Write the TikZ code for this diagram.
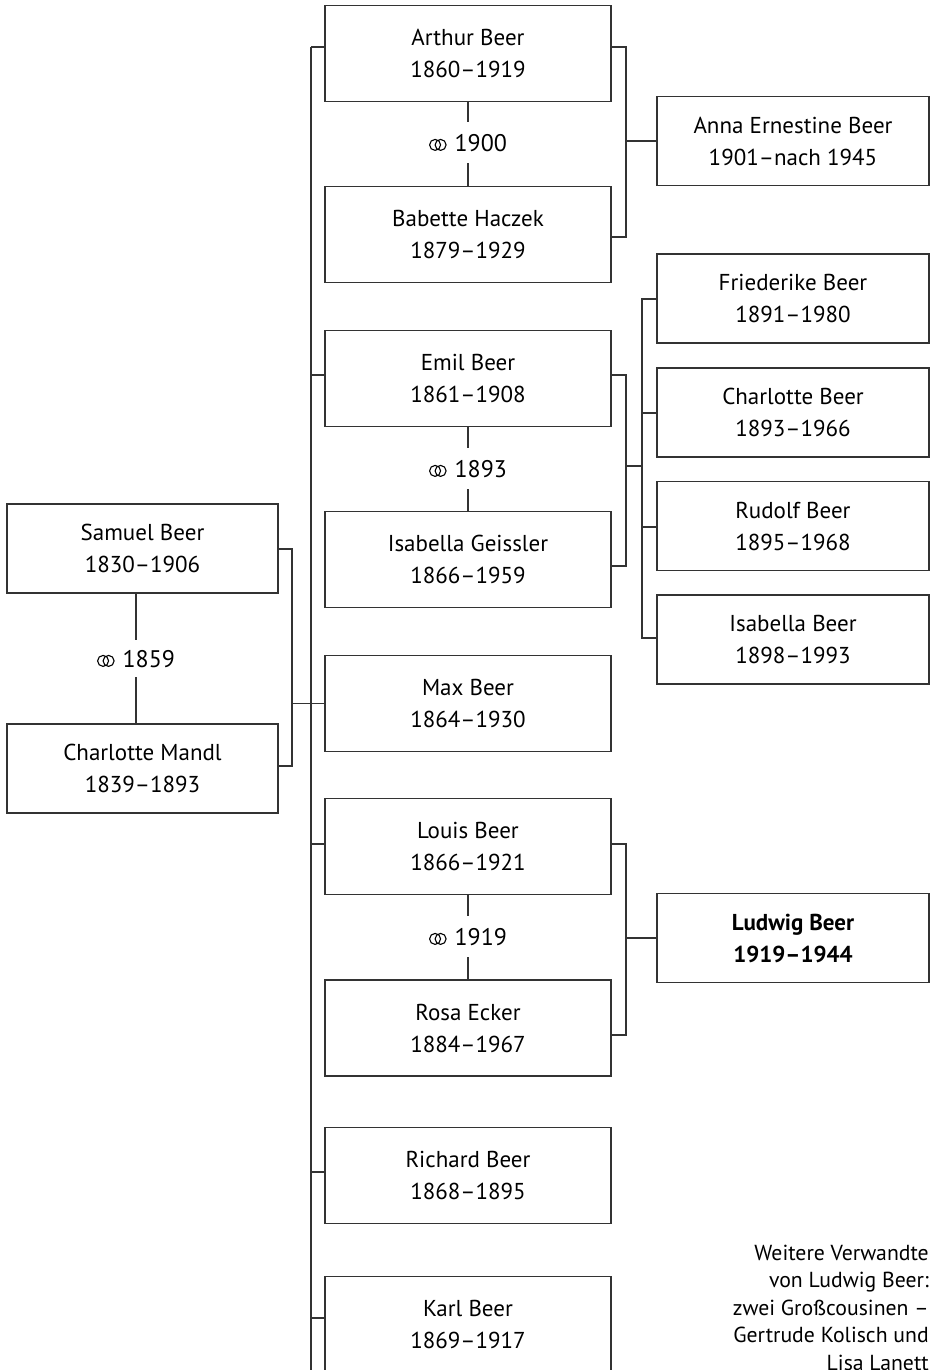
\documentclass[tikz,border=0pt]{standalone}
\usepackage{fontspec}
\setmainfont{PT Sans}
\newdimen\px \px=0.75pt
\tikzset{
  person/.style={draw=black!80, line width=1.3\px, rectangle, inner sep=0pt, align=center,
    font=\fontsize{17.25}{24}\selectfont},
  child/.style={person, minimum width=286\px, minimum height=96\px},
  parent/.style={person, minimum width=271\px, minimum height=89\px},
  grand/.style={person, minimum width=272\px, minimum height=89\px},
  wed/.style={inner sep=0pt, font=\fontsize{18}{24}\selectfont},
  conn/.style={draw=black!80, line width=1.3\px},
  note/.style={inner sep=0pt, align=right, anchor=base east, font=\fontsize{16.3}{20.6}\selectfont}
}
\newcommand{\wedsym}{\tikz[baseline={(0,-6.5\px)}, line width=1.1\px]{\draw (0,0) circle[radius=5.5\px]; \draw (5.5\px,0) circle[radius=5.5\px];}\hspace{8\px}}
\begin{document}
\begin{tikzpicture}[x=\px, y=-\px]
\useasboundingbox (0,0) rectangle (930,1370);
\clip (0,0) rectangle (930,1370);
\fill[white] (0,0) rectangle (930,1370);
% parents
\node[parent] (samuel) at (142.5,548.5) {Samuel Beer\\1830–1906};
\node[parent] (charm) at (142.5,768.5) {Charlotte Mandl\\1839–1893};
\node[wed] (w0) at (136,659) {\wedsym 1859};
% children
\node[child] (arthur) at (468,53.5) {Arthur Beer\\1860–1919};
\node[child] (babette) at (468,234.5) {Babette Haczek\\1879–1929};
\node[wed] (w1) at (468,143) {\wedsym 1900};
\node[child] (emil) at (468,378.5) {Emil Beer\\1861–1908};
\node[child] (isag) at (468,559.5) {Isabella Geissler\\1866–1959};
\node[wed] (w2) at (468,469) {\wedsym 1893};
\node[child] (max) at (468,703.5) {Max Beer\\1864–1930};
\node[child] (louis) at (468,846.5) {Louis Beer\\1866–1921};
\node[child] (rosa) at (468,1028) {Rosa Ecker\\1884–1967};
\node[wed] (w3) at (468,937) {\wedsym 1919};
\node[child] (richard) at (468,1175.5) {Richard Beer\\1868–1895};
\node[child] (karl) at (468,1324.5) {Karl Beer\\1869–1917};
% grandchildren
\node[grand] (anna) at (793,141) {Anna Ernestine Beer\\1901–nach 1945};
\node[grand] (fried) at (793,298.5) {Friederike Beer\\1891–1980};
\node[grand] (charb) at (793,412.5) {Charlotte Beer\\1893–1966};
\node[grand] (rudolf) at (793,526) {Rudolf Beer\\1895–1968};
\node[grand] (isab) at (793,639.5) {Isabella Beer\\1898–1993};
\node[grand, font=\fontsize{17.25}{24}\selectfont\bfseries] (ludwig) at (793,938) {Ludwig Beer\\1919–1944};
% note
\node[note] (note) at (929,1370) {Weitere Verwandte\\von Ludwig Beer:\\zwei Großcousinen –\\Gertrude Kolisch und\\Lisa Lanett};
% marriage lines
\draw[conn] (samuel.south -| w0) -- (136,640) (136,677) -- (charm.north -| w0);
\draw[conn] (arthur.south) -- (468,122) (468,163) -- (babette.north);
\draw[conn] (emil.south) -- (468,448) (468,489) -- (isag.north);
\draw[conn] (louis.south) -- (468,916) (468,957) -- (rosa.north);
% parents bracket
\coordinate (pj) at (292,703.5);
\draw[conn] (samuel.east |- 0,549) -- (292,549) -- (292,766) -- (charm.east |- 0,766);
\draw[conn] (pj) -- (max.west);
\draw[conn] (311,47) -- (311,1380);
\draw[conn] (311,47) -- (arthur.west |- 0,47);
\draw[conn] (311,375) -- (emil.west |- 0,375);
\draw[conn] (311,844) -- (louis.west |- 0,844);
\draw[conn] (311,1172) -- (richard.west |- 0,1172);
\draw[conn] (311,1318) -- (karl.west |- 0,1318);
% Arthur bracket
\draw[conn] (arthur.east |- 0,47) -- (626,47) -- (626,237) -- (babette.east |- 0,237);
\draw[conn] (626,141) -- (anna.west |- 0,141);
% Emil bracket
\draw[conn] (emil.east |- 0,375) -- (626,375) -- (626,566) -- (isag.east |- 0,566);
\draw[conn] (626,466) -- (642,466);
\draw[conn] (fried.west |- 0,299) -- (642,299) -- (642,638) -- (isab.west |- 0,638);
\draw[conn] (642,413) -- (charb.west |- 0,413);
\draw[conn] (642,527) -- (rudolf.west |- 0,527);
% Louis bracket
\draw[conn] (louis.east |- 0,844) -- (626,844) -- (626,1035) -- (rosa.east |- 0,1035);
\draw[conn] (626,938) -- (ludwig.west |- 0,938);
\end{tikzpicture}
\end{document}
